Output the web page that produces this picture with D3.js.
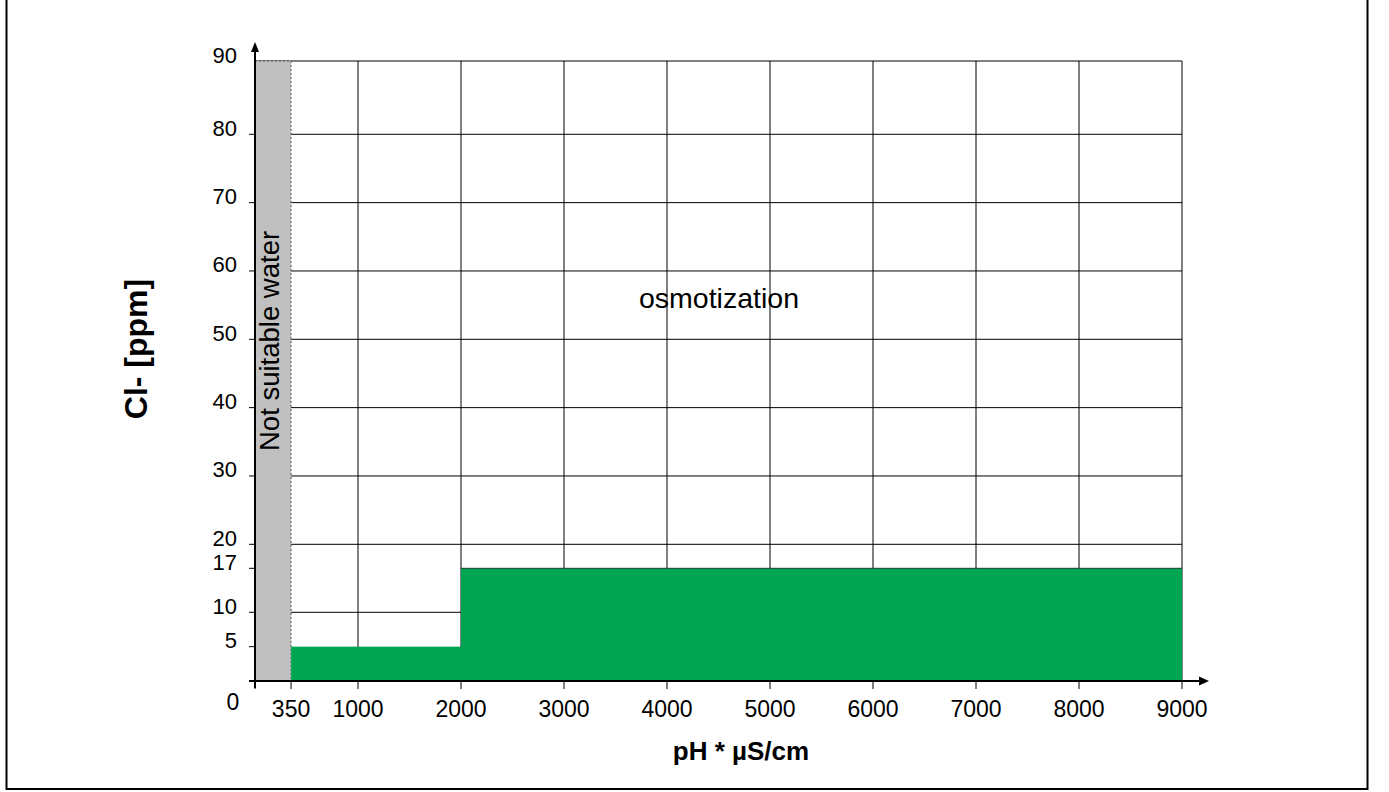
<!DOCTYPE html>
<html>
<head>
<meta charset="utf-8">
<script src="https://cdn.jsdelivr.net/npm/d3@7"></script>
<style>
  html, body { margin: 0; padding: 0; background: #fff; }
  svg { display: block; font-family: "Liberation Sans", Arial, sans-serif; }
</style>
</head>
<body>
<svg id="chart" width="1389" height="792"></svg>
<script>
// ---- data ----
const xTicks = [0, 350, 1000, 2000, 3000, 4000, 5000, 6000, 7000, 8000, 9000];
const xTickLabels = ["", "350", "1000", "2000", "3000", "4000", "5000", "6000", "7000", "8000", "9000"];
const xGrid = [1000, 2000, 3000, 4000, 5000, 6000, 7000, 8000, 9000];
const yTicks = [0, 5, 10, 17, 20, 30, 40, 50, 60, 70, 80];
const yTickLabels = [5, 10, 17, 20, 30, 40, 50, 60, 70, 80, 90];
const yGrid = [10, 20, 30, 40, 50, 60, 70, 80, 90];
const zoneStart = [350, 2000];
const zoneEnd = [2000, 9000];
const zoneCl = [5, 17];
const unsuitableRange = [0, 350];
const yMax = 90;
const xMax = 9000;

const svg = d3.select("#chart");
const x = d3.scaleLinear().domain([0, xMax]).range([255, 1182]);
// the original axis is drawn slightly unevenly; piecewise scale follows it
const y = d3.scaleLinear().domain([0, 10, 17, 20, 80, 90]).range([681, 612.3, 568.3, 544.3, 134.3, 61]);

// outer frame
svg.append("rect").attr("x", 6.5).attr("y", -5).attr("width", 1361).attr("height", 794)
  .attr("fill", "none").attr("stroke", "#000").attr("stroke-width", 2);

// gridlines
svg.append("g").selectAll("line").data(yGrid).join("line")
  .attr("x1", x(0)).attr("x2", x(xMax))
  .attr("y1", d => y(d)).attr("y2", d => y(d))
  .attr("stroke", "#000").attr("stroke-width", 1);
svg.append("g").selectAll("line").data(xGrid).join("line")
  .attr("x1", d => x(d)).attr("x2", d => x(d))
  .attr("y1", y(0)).attr("y2", y(yMax))
  .attr("stroke", "#000").attr("stroke-width", 1);

// not suitable zone
svg.append("rect")
  .attr("x", x(unsuitableRange[0])).attr("y", y(yMax))
  .attr("width", x(unsuitableRange[1]) - x(unsuitableRange[0]))
  .attr("height", y(0) - y(yMax))
  .attr("fill", "#c0c0c0").attr("stroke", "#555").attr("stroke-width", 1)
  .attr("stroke-dasharray", "2,2");

// green zones
svg.append("g").selectAll("rect").data(zoneCl).join("rect")
  .attr("x", (d, i) => x(zoneStart[i]))
  .attr("y", d => y(d))
  .attr("width", (d, i) => x(zoneEnd[i]) - x(zoneStart[i]))
  .attr("height", d => y(0) - y(d))
  .attr("fill", "#00a551");
svg.append("line")
  .attr("x1", x(zoneStart[1])).attr("x2", x(zoneEnd[1]))
  .attr("y1", y(zoneCl[1])).attr("y2", y(zoneCl[1]))
  .attr("stroke", "#1a3d2a").attr("stroke-width", 1);

// axes
const ax = svg.append("g");
ax.append("line").attr("x1", 249).attr("x2", 1200).attr("y1", y(0)).attr("y2", y(0))
  .attr("stroke", "#000").attr("stroke-width", 2);
ax.append("path").attr("d", `M1209,${y(0)} L1199,${y(0) - 4.5} L1199,${y(0) + 4.5} Z`).attr("fill", "#000");
ax.append("line").attr("x1", x(0)).attr("x2", x(0)).attr("y1", 688).attr("y2", 50)
  .attr("stroke", "#000").attr("stroke-width", 2);
ax.append("path").attr("d", `M${x(0)},42 L${x(0) - 4},52 L${x(0) + 4},52 Z`).attr("fill", "#000");

// x ticks
ax.selectAll(".xt").data(xTicks).join("line").attr("class", "xt")
  .attr("x1", d => x(d)).attr("x2", d => x(d)).attr("y1", y(0)).attr("y2", y(0) + 8)
  .attr("stroke", "#000").attr("stroke-width", 1);
ax.selectAll(".xl").data(xTicks).join("text").attr("class", "xl")
  .attr("x", d => x(d)).attr("y", 717)
  .attr("text-anchor", "middle").attr("font-size", 23).attr("fill", "#000")
  .text((d, i) => xTickLabels[i]);
ax.append("text").attr("x", 233).attr("y", 710).attr("text-anchor", "middle")
  .attr("font-size", 23).text("0");

// y ticks
ax.selectAll(".yt").data(yTicks).join("line").attr("class", "yt")
  .attr("x1", 249).attr("x2", x(0)).attr("y1", d => y(d)).attr("y2", d => y(d))
  .attr("stroke", "#000").attr("stroke-width", 1);
ax.selectAll(".yl").data(yTickLabels).join("text").attr("class", "yl")
  .attr("x", 237).attr("y", d => y(d) + 1.5)
  .attr("text-anchor", "end").attr("font-size", 22).attr("fill", "#000")
  .text(d => d);

// zone labels
svg.append("text").attr("x", 719).attr("y", 308).attr("text-anchor", "middle")
  .attr("font-size", 28.5).text("osmotization");
svg.append("text").attr("transform", "translate(279,451) rotate(-90)")
  .attr("text-anchor", "start").attr("font-size", 27.5).text("Not suitable water");

// axis titles
svg.append("text").attr("x", 741).attr("y", 760).attr("text-anchor", "middle")
  .attr("font-size", 26).attr("font-weight", "bold").text("pH * µS/cm");
svg.append("text").attr("transform", "translate(147,349) rotate(-90)")
  .attr("text-anchor", "middle").attr("font-size", 32).attr("font-weight", "bold").text("Cl- [ppm]");
</script>
</body>
</html>
